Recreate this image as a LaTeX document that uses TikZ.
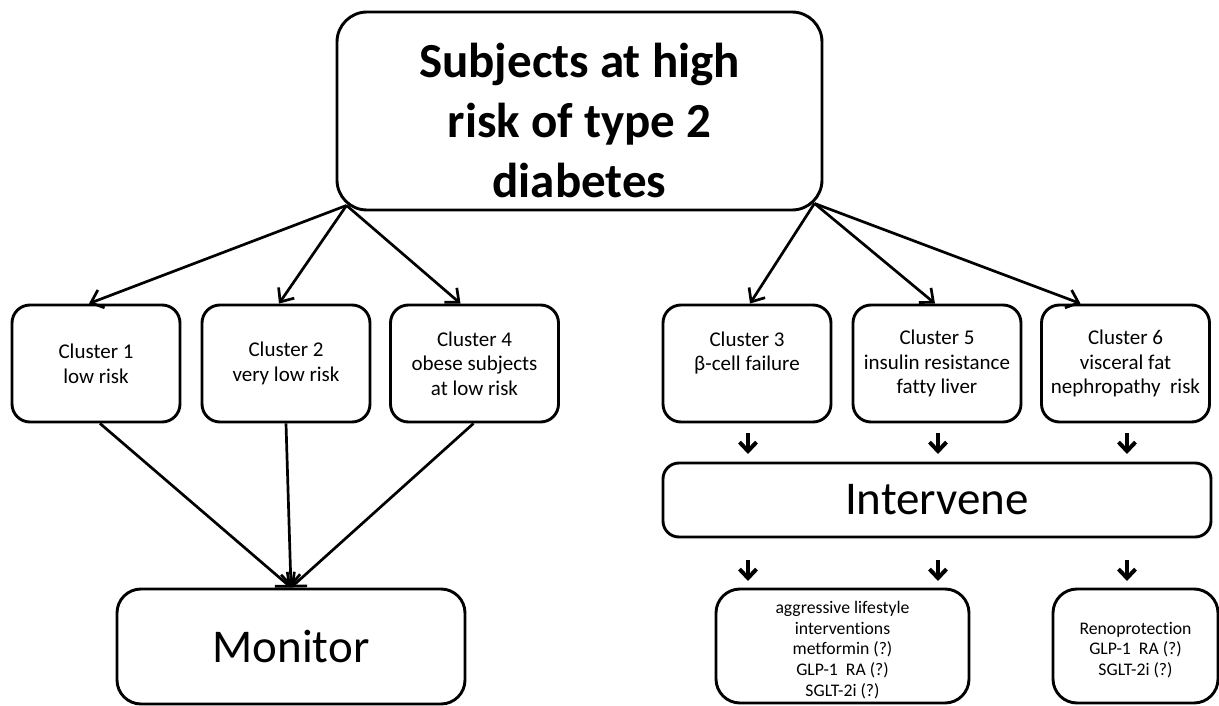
\documentclass[tikz,border=0pt]{standalone}
\usepackage{fontspec}
\setmainfont{Carlito}[Ligatures={NoCommon}]
\usetikzlibrary{arrows.meta}
\begin{document}
\begin{tikzpicture}[x=1pt,y=-1pt,
  box/.style={draw, line width=2.9pt, rounded corners=#1, align=center, inner sep=0pt, anchor=center},
  box/.default=18pt,
  cl/.style={box, minimum width=168pt, minimum height=117pt, font=\fontsize{21}{24.6}\selectfont},
  big/.style={font=\fontsize{47}{56}\selectfont},
  smalltext/.style={align=center, inner sep=0pt, font=\fontsize{17.7}{20.6}\selectfont, yshift=-4pt},
  toptext/.style={align=center, inner sep=0pt, font=\bfseries\fontsize{49}{60}\selectfont, yshift=-9pt},
  conn/.style={line width=2.7pt, -{Straight Barb[length=11pt,width=19pt]}},
  short/.style={line width=4pt, -{Straight Barb[length=9pt,width=17pt]}}
]
\fill[white] (0,0) rectangle (1219,706);
\useasboundingbox (0,0) rectangle (1219,706);

% top box
\node[box=30pt, minimum width=485pt, minimum height=198pt,
      label={[toptext]center:{Subjects at high\\risk of type 2\\diabetes}}] (top) at (579.5,111) {};

% clusters
\node[cl] (c1) at (96,363.5) {Cluster 1\\low risk};
\node[cl] (c2) at (286,363.5) {Cluster 2\\very low risk};
\node[cl] (c4) at (474.5,363.5) {Cluster 4\\obese subjects\\at low risk};
\node[cl] (c3) at (747,363.5) {Cluster 3\\β-cell failure\\\phantom{x}};
\node[cl] (c5) at (937,363.5) {Cluster 5\\insulin resistance\\fatty liver};
\node[cl] (c6) at (1125.5,363.5) {Cluster 6\\visceral fat\\nephropathy\ \ risk};

% intervene
\node[box=16pt, big, minimum width=548pt, minimum height=74pt] (int) at (937,500) {Intervene};

% monitor
\node[box=24pt, big, minimum width=348pt, minimum height=115pt] (mon) at (291,646.5) {Monitor};

% bottom boxes
\node[box=24pt, minimum width=253pt, minimum height=114pt,
      label={[smalltext]center:{aggressive lifestyle\\interventions\\metformin (?)\\GLP-1\ \ RA (?)\\SGLT-2i (?)}}] (b1) at (842.5,646) {};
\node[box=24pt, minimum width=165pt, minimum height=114pt,
      label={[smalltext]center:{Renoprotection\\GLP-1\ \ RA (?)\\SGLT-2i (?)}}] (b2) at (1135.5,646) {};

% origins on the rounded corners of the top box
\coordinate (tl) at ([shift={(11,-6)}]top.south west);
\coordinate (tr) at ([shift={(-9,-8)}]top.south east);

\draw[conn] (tl) -- ([xshift=-7pt]c1.north);
\draw[conn] (tl) -- ([xshift=-7pt]c2.north);
\draw[conn] (tl) -- ([xshift=-14pt]c4.north);
\draw[conn] (tr) -- ([xshift=3pt]c3.north);
\draw[conn] (tr) -- ([xshift=-2pt]c5.north);
\draw[conn] (tr) -- ([xshift=-45pt]c6.north);

% to monitor
\draw[conn] ([xshift=4pt]c1.south) -- (mon.north);
\draw[conn] (c2.south) -- (mon.north);
\draw[conn] ([xshift=-1pt]c4.south) -- (mon.north);

% short arrows
\foreach \n/\x in {p/748,q/938,r/1127}{
  \coordinate (\n s) at (\x,433);
  \coordinate (\n e) at (\x,454);
  \draw[short] (\n s) -- (\n e);
}
\foreach \n/\x in {u/748,v/938,w/1127}{
  \coordinate (\n s) at (\x,560);
  \coordinate (\n e) at (\x,581);
  \draw[short] (\n s) -- (\n e);
}
\end{tikzpicture}
\end{document}
